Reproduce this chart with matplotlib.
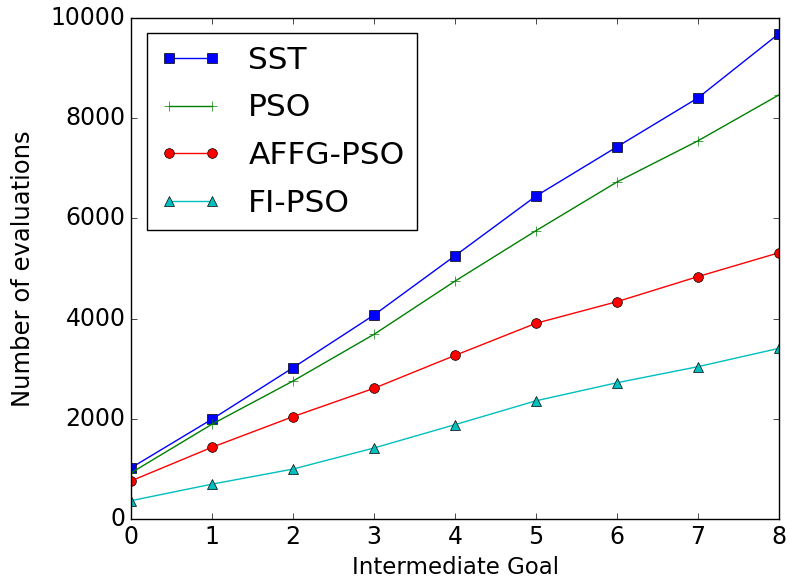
import matplotlib
matplotlib.use('Agg')
import matplotlib.pyplot as plt

goals = [0, 1, 2, 3, 4, 5, 6, 7, 8]
sst = [1030, 2000, 3025, 4075, 5255, 6445, 7425, 8400, 9680]
pso = [930, 1900, 2760, 3690, 4750, 5755, 6725, 7545, 8460]
affg_pso = [770, 1440, 2050, 2615, 3270, 3910, 4340, 4840, 5315]
fi_pso = [375, 705, 1005, 1425, 1890, 2365, 2725, 3045, 3410]

plt.style.use('classic')
fig = plt.figure(figsize=(7.9, 5.87), dpi=100)
ax = fig.add_axes([0.166, 0.115, 0.82, 0.855])

ax.plot(goals, sst, 'bs-', label='SST', markersize=7)
ax.plot(goals, pso, 'g+-', label='PSO', markersize=7)
ax.plot(goals, affg_pso, 'ro-', label='AFFG-PSO', markersize=7)
ax.plot(goals, fi_pso, 'c^-', label='FI-PSO', markersize=7)

ax.set_xlim(0, 8)
ax.set_ylim(0, 10000)
ax.tick_params(labelsize=17)
ax.set_xlabel('Intermediate Goal', fontsize=16.5)
ax.set_ylabel('Number of evaluations', fontsize=17.5)
ax.yaxis.set_label_coords(-0.148, 0.5)
ax.legend(loc='upper left', fontsize=22.5, handlelength=2.0,
          handletextpad=0.85, labelspacing=0.6, borderpad=0.4)

fig.savefig('out.png', dpi=100)
